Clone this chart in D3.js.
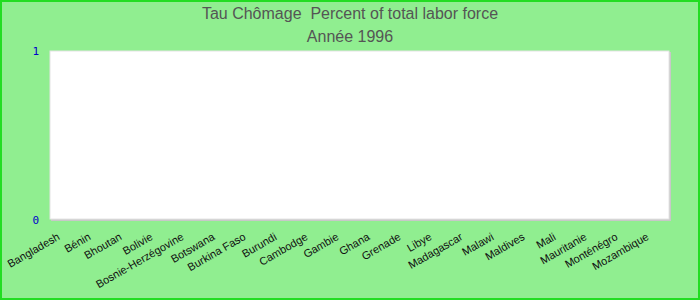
<!DOCTYPE html>
<html>
<head>
<meta charset="utf-8">
<script src="https://cdn.jsdelivr.net/npm/d3@7"></script>
<style>
  body { margin: 0; padding: 0; background: #fff; }
  svg { display: block; }
</style>
</head>
<body>
<div id="chart"></div>
<script>
// data
var countries = ["Bangladesh", "Bénin", "Bhoutan", "Bolivie", "Bosnie-Herzégovine",
  "Botswana", "Burkina Faso", "Burundi", "Cambodge", "Gambie", "Ghana", "Grenade",
  "Libye", "Madagascar", "Malawi", "Maldives", "Mali", "Mauritanie", "Monténégro",
  "Mozambique"];
// no visible bars in the picture for 1996
var values = [0, 0, 0, 0, 0, 0, 0, 0, 0, 0, 0, 0, 0, 0, 0, 0, 0, 0, 0, 0];
var yTicks = [0, 1];
var titleLines = ["Tau Chômage  Percent of total labor force", "Année 1996"];

var W = 700, H = 300;
var margin = {top: 51, right: 30, bottom: 80, left: 50};
var width = W - margin.left - margin.right;
var height = H - margin.top - margin.bottom;

var svg = d3.select("#chart").append("svg")
    .attr("width", W)
    .attr("height", H);

// background + outer border
svg.append("rect")
    .attr("x", 1).attr("y", 1)
    .attr("width", W - 2).attr("height", H - 2)
    .attr("fill", "#90ee90")
    .attr("stroke", "#22dd22")
    .attr("stroke-width", 2);

// titles
svg.selectAll("text.title")
    .data(titleLines)
    .enter().append("text")
    .attr("class", "title")
    .attr("x", W / 2)
    .attr("y", function(d, i) { return 19 + i * 22.5; })
    .attr("text-anchor", "middle")
    .style("white-space", "pre")
    .style("font-family", "'Liberation Sans', Arial, sans-serif")
    .style("font-size", "16px")
    .style("fill", "#555")
    .text(function(d) { return d; });

var x = d3.scaleBand().domain(countries).range([0, width]);
var y = d3.scaleLinear().domain([0, 1]).range([height, 0]);

var g = svg.append("g")
    .attr("transform", "translate(" + margin.left + "," + margin.top + ")");

// plot area with a soft shadow
g.append("rect")
    .attr("x", 1).attr("y", 1)
    .attr("width", width).attr("height", height)
    .attr("fill", "#c8c8c8");
g.append("rect")
    .attr("width", width - 1).attr("height", height - 1)
    .attr("fill", "#fff")
    .attr("stroke", "#e4e4e4")
    .attr("stroke-width", 1);

// bars (all zero here)
g.selectAll("rect.bar")
    .data(values)
    .enter().append("rect")
    .attr("class", "bar")
    .attr("x", function(d, i) { return x(countries[i]) + x.bandwidth() * 0.1; })
    .attr("width", x.bandwidth() * 0.8)
    .attr("y", function(d) { return y(d); })
    .attr("height", function(d) { return height - y(d); })
    .attr("fill", "#4a7ebb");

// y-axis
var yAxis = g.append("g")
    .call(d3.axisLeft(y).tickValues(yTicks).tickFormat(d3.format("d")).tickSize(0).tickPadding(11));
yAxis.select(".domain").remove();
yAxis.selectAll("text")
    .style("font-family", "'DejaVu Sans Mono', monospace")
    .style("font-size", "11px")
    .style("fill", "#0000cc");

// x-axis
var xAxis = g.append("g")
    .attr("transform", "translate(0," + height + ")")
    .call(d3.axisBottom(x).tickSize(0));
xAxis.select(".domain").remove();
xAxis.selectAll("text")
    .style("font-family", "'Liberation Sans', Arial, sans-serif")
    .style("font-size", "11px")
    .style("fill", "#111")
    .attr("text-anchor", "end")
    .attr("dy", "0")
    .attr("transform", "translate(-5,19) rotate(-30)")
    .attr("y", 0);
</script>
</body>
</html>
